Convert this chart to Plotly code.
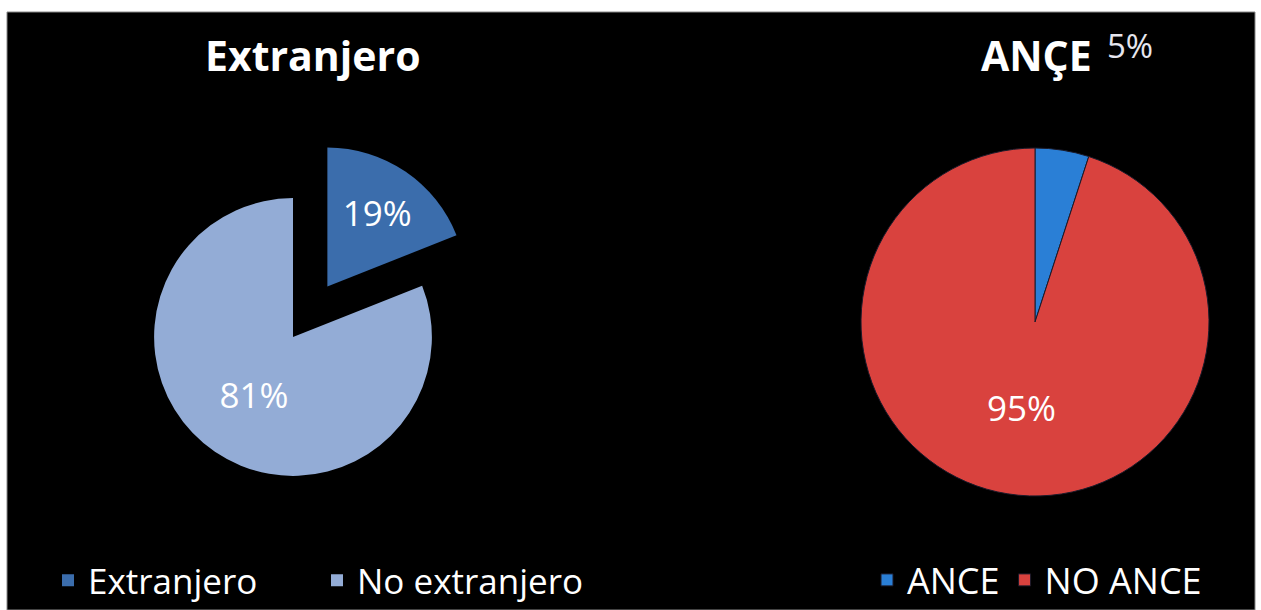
import plotly.graph_objects as go

# ---- data ----
left_labels = ["Extranjero", "No extranjero"]
left_values = [19, 81]
right_labels = ["ANCE", "NO ANCE"]
right_values = [5, 95]
left_title = "Extranjero"
right_title = "ANÇE"

W, H = 1261, 610
FONT = "Open Sans"

fig = go.Figure()

fig.add_trace(go.Pie(
    labels=left_labels, values=left_values, sort=False, direction="clockwise",
    rotation=0, pull=[0.44, 0],
    marker=dict(colors=["#3b6dac", "#93acd6"], line=dict(width=0)),
    texttemplate="%{value}%", textposition="inside",
    insidetextorientation="horizontal",
    textfont=dict(family=FONT, size=35, color="white"),
    domain=dict(x=[93 / W, 493 / W], y=[1 - 537 / H, 1 - 137 / H]),
    legend="legend", showlegend=True, hoverinfo="label+percent",
))

fig.add_trace(go.Pie(
    labels=right_labels, values=right_values, sort=False, direction="clockwise",
    rotation=0,
    marker=dict(colors=["#2a7fd6", "#d9423e"], line=dict(width=1, color="#1a1a2a")),
    texttemplate="%{value}%", textposition=["none", "inside"],
    insidetextorientation="horizontal",
    textfont=dict(family=FONT, size=35, color="white"),
    domain=dict(x=[861 / W, 1209 / W], y=[1 - 496 / H, 1 - 148 / H]),
    legend="legend2", showlegend=True, hoverinfo="label+percent",
))

fig.update_layout(
    width=W, height=H,
    margin=dict(l=0, r=0, t=0, b=0, autoexpand=False),
    paper_bgcolor="white",
    font=dict(family=FONT, color="white"),
    shapes=[dict(type="rect", xref="paper", yref="paper",
                 x0=7 / W, x1=1255 / W, y0=0, y1=1 - 12 / H,
                 fillcolor="black", line=dict(color="#888888", width=1),
                 layer="below")],
    legend=dict(orientation="h", x=48 / W, y=0, xanchor="left",
                yanchor="bottom", bgcolor="rgba(0,0,0,0)",
                font=dict(family=FONT, size=35, color="white"),
                entrywidth=224, traceorder="normal"),
    legend2=dict(orientation="h", x=867 / W, y=0, xanchor="left",
                 yanchor="bottom", bgcolor="rgba(0,0,0,0)",
                 font=dict(family=FONT, size=36, color="white"),
                 traceorder="normal"),
    annotations=[
        dict(text="<b>%s</b>" % left_title, x=313 / W, y=1 - 55 / H,
             xref="paper", yref="paper", showarrow=False,
             xanchor="center", yanchor="middle",
             font=dict(family=FONT, size=41, color="white")),
        dict(text="<b>%s</b>" % right_title, x=1036 / W, y=1 - 55 / H,
             xref="paper", yref="paper", showarrow=False,
             xanchor="center", yanchor="middle",
             font=dict(family=FONT, size=41, color="white")),
        dict(text="%d%%" % right_values[0], x=1105 / W, y=1 - 46 / H,
             xref="paper", yref="paper", showarrow=False,
             xanchor="left", yanchor="middle",
             font=dict(family=FONT, size=33, color="#e6e6ee")),
    ],
)

fig.write_html("out.html")
